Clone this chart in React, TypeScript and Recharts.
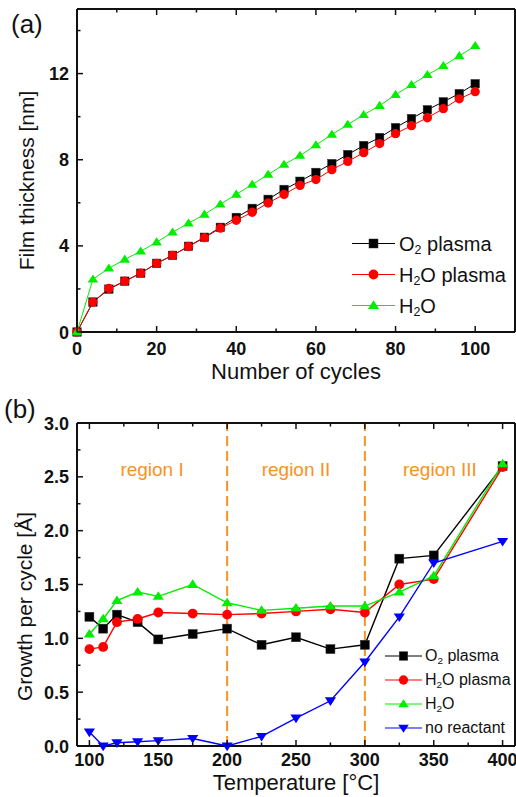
import React from 'react';
import { LineChart, Line, XAxis, YAxis, Legend, ReferenceLine, ReferenceArea, Label } from 'recharts';

const FONT = '"Liberation Sans", Arial, Helvetica, sans-serif';
const INK = '#111111';
const ORANGE = '#F7931E';

// (a) film thickness [nm] vs. number of cycles
const cycles = [0, 4, 8, 12, 16, 20, 24, 28, 32, 36, 40, 44, 48, 52, 56, 60, 64, 68, 72, 76, 80, 84, 88, 92, 96, 100];
const thickO2Plasma = [0, 1.39, 1.99, 2.36, 2.73, 3.19, 3.56, 3.98, 4.4, 4.86, 5.32, 5.74, 6.16, 6.62, 7.0, 7.41, 7.82, 8.24, 8.66, 9.03, 9.49, 9.91, 10.32, 10.69, 11.07, 11.53];
const thickH2OPlasma = [0, 1.39, 2.02, 2.36, 2.73, 3.19, 3.56, 3.97, 4.38, 4.82, 5.19, 5.56, 5.99, 6.39, 6.81, 7.08, 7.54, 7.92, 8.33, 8.75, 9.21, 9.58, 9.95, 10.37, 10.83, 11.16];
const thickH2O = [0, 2.45, 2.96, 3.37, 3.75, 4.17, 4.63, 5.05, 5.46, 5.93, 6.39, 6.85, 7.31, 7.78, 8.19, 8.68, 9.17, 9.63, 10.09, 10.51, 11.02, 11.48, 11.94, 12.36, 12.82, 13.29];
const cycleTicks = [0, 10, 20, 30, 40, 50, 60, 70, 80, 90, 100];
const cycleMajor = [0, 20, 40, 60, 80, 100];
const thickTicks = [0, 2, 4, 6, 8, 10, 12, 14];
const thickMajor = [0, 4, 8, 12];

// (b) growth per cycle [Å] vs. temperature
const temps = [100, 110, 120, 135, 150, 175, 200, 225, 250, 275, 300, 325, 350, 400];
const gpcO2Plasma = [1.2, 1.09, 1.22, 1.15, 0.99, 1.04, 1.09, 0.94, 1.01, 0.9, 0.94, 1.74, 1.77, 2.6];
const gpcH2OPlasma = [0.9, 0.92, 1.15, 1.18, 1.24, 1.23, 1.22, 1.23, 1.25, 1.27, 1.24, 1.5, 1.55, 2.59];
const gpcH2O = [1.04, 1.18, 1.35, 1.43, 1.39, 1.5, 1.33, 1.26, 1.28, 1.3, 1.3, 1.43, 1.58, 2.62];
const gpcNoReactant = [0.13, 0.0, 0.03, 0.04, 0.05, 0.07, 0.0, 0.09, 0.26, 0.42, 0.78, 1.2, 1.7, 1.9];
const tempTicks = [100, 125, 150, 175, 200, 225, 250, 275, 300, 325, 350, 375, 400];
const tempMajor = [100, 150, 200, 250, 300, 350, 400];
const gpcTicks = [0, 0.25, 0.5, 0.75, 1, 1.25, 1.5, 1.75, 2, 2.25, 2.5, 2.75, 3];
const gpcMajor = [0, 0.5, 1, 1.5, 2, 2.5, 3];
const boundaries = [200, 300];
const regions = [
  { name: 'region I', from: 91, to: 200 },
  { name: 'region II', from: 200, to: 300 },
  { name: 'region III', from: 300, to: 409 },
];

const series = [
  { key: 'o2', name: 'O2 plasma', color: '#000000', shape: 'square' },
  { key: 'h2oPlasma', name: 'H2O plasma', color: '#FF0000', shape: 'circle' },
  { key: 'h2o', name: 'H2O', color: '#00EE00', shape: 'triangle' },
  { key: 'none', name: 'no reactant', color: '#0000FF', shape: 'down' },
];

const thicknessData = cycles.map((c, i) => ({
  cycles: c,
  o2: thickO2Plasma[i],
  h2oPlasma: thickH2OPlasma[i],
  h2o: thickH2O[i],
}));

const gpcData = temps.map((t, i) => ({
  temp: t,
  o2: gpcO2Plasma[i],
  h2oPlasma: gpcH2OPlasma[i],
  h2o: gpcH2O[i],
  none: gpcNoReactant[i],
}));

function marker(shape: string, cx: number, cy: number, color: string, s: number, key?: any) {
  if (shape === 'square') {
    return <rect key={key} x={cx - s / 2} y={cy - s / 2} width={s} height={s} fill={color} stroke="#333" strokeWidth={0.5} />;
  }
  if (shape === 'circle') {
    return <circle key={key} cx={cx} cy={cy} r={s / 2 + 0.4} fill={color} />;
  }
  const w = s * 0.62;
  const h = s * 0.95;
  if (shape === 'triangle') {
    return <polygon key={key} points={`${cx},${cy - h * 0.6} ${cx - w},${cy + h * 0.4} ${cx + w},${cy + h * 0.4}`} fill={color} />;
  }
  return <polygon key={key} points={`${cx},${cy + h * 0.6} ${cx - w},${cy - h * 0.4} ${cx + w},${cy - h * 0.4}`} fill={color} />;
}

const dotFor = (shape: string, color: string, size: number) => (p: any) =>
  p.cx == null || p.cy == null ? <g key={p.index} /> : marker(shape, p.cx, p.cy, color, size, p.index);

// subscripted chemical formulae: O2 -> O₂
const formatName = (name: string) => {
  const parts = name.split('2');
  return parts.map((part, i) => (
    <React.Fragment key={i}>
      {part}
      {i < parts.length - 1 && <span style={{ fontSize: '0.62em', position: 'relative', top: '0.3em' }}>2</span>}
    </React.Fragment>
  ));
};

const isIn = (list: number[], v: number) => list.some((m) => Math.abs(m - v) < 1e-6);

const tickRenderer = (side: string, major: number[], fmt: (v: number) => string, labelDy = 23) => (p: any) => {
  const v = p.payload.value;
  const big = isIn(major, v);
  const len = big ? 6 : 3.5;
  const { x, y } = p;
  const common = { fontFamily: FONT, fontSize: 18, fontWeight: 700, fill: INK };
  if (side === 'bottom') {
    return (
      <g>
        <line x1={x} x2={x} y1={y} y2={y - len} stroke={INK} strokeWidth={1.5} />
        {big && <text x={x} y={y + labelDy} textAnchor="middle" {...common}>{fmt(v)}</text>}
      </g>
    );
  }
  if (side === 'top') {
    return <line x1={x} x2={x} y1={y} y2={y + len} stroke={INK} strokeWidth={1.5} />;
  }
  if (side === 'left') {
    return (
      <g>
        <line x1={x} x2={x + len} y1={y} y2={y} stroke={INK} strokeWidth={1.5} />
        {big && <text x={x - 8} y={y + 6.5} textAnchor="end" {...common}>{fmt(v)}</text>}
      </g>
    );
  }
  return <line x1={x} x2={x - len} y1={y} y2={y} stroke={INK} strokeWidth={1.5} />;
};

const xTitle = (text: string, dy: number) => (p: any) => {
  const vb = p.viewBox;
  return (
    <text x={vb.x + vb.width / 2} y={vb.y + dy} textAnchor="middle" fontFamily={FONT} fontSize={22} fill={INK}>
      {text}
    </text>
  );
};

const yTitle = (text: string, baseX: number, shift: number) => (p: any) => {
  const vb = p.viewBox;
  const cx = vb.x + baseX;
  const cy = vb.y + vb.height / 2 + shift;
  return (
    <text x={cx} y={cy} transform={`rotate(-90, ${cx}, ${cy})`} textAnchor="middle" fontFamily={FONT} fontSize={21} fill={INK}>
      {text}
    </text>
  );
};

const legendContent = (keys: string[], rowH: number, fontSize: number, lineW: number, size: number, gap: number) => () => (
  <div style={{ fontFamily: FONT, fontSize, color: INK, lineHeight: 1 }}>
    {series
      .filter((s) => keys.includes(s.key))
      .map((s) => (
        <div key={s.key} style={{ display: 'flex', alignItems: 'center', height: rowH }}>
          <svg width={lineW} height={rowH} style={{ display: 'block' }}>
            <line x1={0} x2={lineW} y1={rowH / 2} y2={rowH / 2} stroke={s.color} strokeWidth={1} />
            {marker(s.shape, lineW / 2, rowH / 2, s.color, size)}
          </svg>
          <span style={{ marginLeft: gap, whiteSpace: 'nowrap' }}>{formatName(s.name)}</span>
        </div>
      ))}
  </div>
);

const axisLine = { stroke: INK, strokeWidth: 2 };

function ThicknessChart() {
  return (
    <LineChart width={516} height={390} data={thicknessData} margin={{ top: 8, right: 0, bottom: 0, left: 0 }}>
      <XAxis dataKey="cycles" type="number" domain={[0, 110]} ticks={cycleTicks} interval={0} height={58}
        tickSize={0} tickMargin={0} tickLine={false} axisLine={axisLine}
        tick={tickRenderer('bottom', cycleMajor, (v) => String(v), 23)}>
        <Label content={xTitle('Number of cycles', 47)} />
      </XAxis>
      <XAxis xAxisId="top" orientation="top" dataKey="cycles" type="number" domain={[0, 110]} ticks={cycleTicks} interval={0}
        height={1} tickSize={0} tickMargin={0} tickLine={false} axisLine={axisLine}
        tick={tickRenderer('top', cycleMajor, (v) => String(v))} />
      <YAxis type="number" domain={[0, 15]} ticks={thickTicks} interval={0} width={77}
        tickSize={0} tickMargin={0} tickLine={false} axisLine={axisLine}
        tick={tickRenderer('left', thickMajor, (v) => String(v))}>
        <Label content={yTitle('Film thickness [nm]', 34, 10)} />
      </YAxis>
      <YAxis yAxisId="right" orientation="right" type="number" domain={[0, 15]} ticks={thickTicks} interval={0} width={1}
        tickSize={0} tickMargin={0} tickLine={false} axisLine={axisLine}
        tick={tickRenderer('right', thickMajor, (v) => String(v))} />
      {series.slice(0, 3).map((s) => (
        <Line key={s.key} dataKey={s.key} name={s.name} stroke={s.color} strokeWidth={1}
          dot={dotFor(s.shape, s.color, 8.5)} activeDot={false} isAnimationActive={false} />
      ))}
      <Legend layout="horizontal" verticalAlign="middle" align="center"
        wrapperStyle={{ left: 352, top: 228, width: 170 }}
        content={legendContent(['o2', 'h2oPlasma', 'h2o'], 31, 20, 43, 9, 4)} />
    </LineChart>
  );
}

function GrowthChart() {
  return (
    <LineChart width={516} height={407} data={gpcData} margin={{ top: 32, right: 0, bottom: 0, left: 0 }}>
      <XAxis dataKey="temp" type="number" domain={[91, 409]} ticks={tempTicks} interval={0} height={51}
        tickSize={0} tickMargin={0} tickLine={false} axisLine={axisLine}
        tick={tickRenderer('bottom', tempMajor, (v) => String(v), 20)}>
        <Label content={xTitle('Temperature [°C]', 44)} />
      </XAxis>
      <XAxis xAxisId="top" orientation="top" dataKey="temp" type="number" domain={[91, 409]} ticks={tempTicks} interval={0}
        height={1} tickSize={0} tickMargin={0} tickLine={false} axisLine={axisLine}
        tick={tickRenderer('top', tempMajor, (v) => String(v))} />
      <YAxis type="number" domain={[0, 3]} ticks={gpcTicks} interval={0} width={77}
        tickSize={0} tickMargin={0} tickLine={false} axisLine={axisLine}
        tick={tickRenderer('left', gpcMajor, (v) => v.toFixed(1))}>
        <Label content={yTitle('Growth per cycle [Å]', 32, 22)} />
      </YAxis>
      <YAxis yAxisId="right" orientation="right" type="number" domain={[0, 3]} ticks={gpcTicks} interval={0} width={1}
        tickSize={0} tickMargin={0} tickLine={false} axisLine={axisLine}
        tick={tickRenderer('right', gpcMajor, (v) => v.toFixed(1))} />
      {regions.map((r) => (
        <ReferenceArea key={r.name} x1={r.from} x2={r.to} fillOpacity={0} strokeOpacity={0}
          label={{ value: r.name, position: 'insideTop', offset: 40, fill: ORANGE, fontSize: 19, fontFamily: FONT }} />
      ))}
      {boundaries.map((b) => (
        <ReferenceLine key={b} x={b} stroke={ORANGE} strokeWidth={2} strokeDasharray="10 5" />
      ))}
      {series.map((s) => (
        <Line key={s.key} dataKey={s.key} name={s.name} stroke={s.color} strokeWidth={1.4}
          dot={dotFor(s.shape, s.color, 9)} activeDot={false} isAnimationActive={false} />
      ))}
      <Legend layout="horizontal" verticalAlign="middle" align="center"
        wrapperStyle={{ left: 385, top: 254, width: 135 }}
        content={legendContent(['o2', 'h2oPlasma', 'h2o', 'none'], 24, 16, 37, 8.5, 3)} />
    </LineChart>
  );
}

export default function App() {
  return (
    <div style={{ position: 'absolute', left: 0, top: 0, width: 516, height: 797, background: '#fff' }}>
      <div style={{ position: 'absolute', left: 0, top: 0 }}>
        <ThicknessChart />
      </div>
      <div style={{ position: 'absolute', left: 0, top: 390 }}>
        <GrowthChart />
      </div>
      <svg width={516} height={797} style={{ position: 'absolute', left: 0, top: 0, pointerEvents: 'none' }}>
        <text x={11} y={33} fontFamily={FONT} fontSize={26} fill={INK}>(a)</text>
        <text x={4} y={418} fontFamily={FONT} fontSize={26} fill={INK}>(b)</text>
      </svg>
    </div>
  );
}
